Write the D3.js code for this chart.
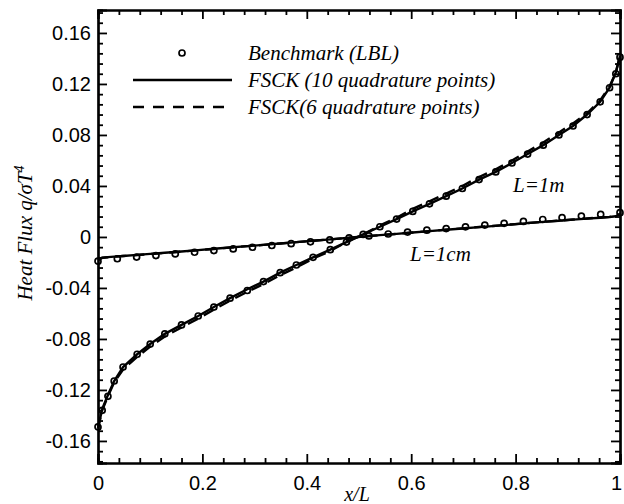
<!DOCTYPE html>
<html lang="en">
<head>
    <meta charset="UTF-8">
    <title>Heat flux profiles</title>
    <script src="https://d3js.org/d3.v7.min.js"></script>
    <style>
        body { margin: 0; background: #fff; }
        .line { fill: none; stroke: #000; stroke-width: 2.4; }
        .tick text { font-family: "Liberation Sans", Arial, sans-serif; font-size: 20px; fill: #000; }
        .lab { font-family: "Liberation Serif", "Times New Roman", serif; font-style: italic; fill: #000; }
    </style>
</head>
<body>
    <svg width="624" height="504"></svg>

    <script>
        // L = 1 m case
        const x1m = [0, 0.008, 0.019, 0.031, 0.048, 0.075, 0.10, 0.128, 0.16, 0.192, 0.222, 0.253, 0.286,
            0.317, 0.349, 0.38, 0.412, 0.445, 0.476, 0.508, 0.54, 0.572, 0.603, 0.635, 0.667, 0.698, 0.73,
            0.762, 0.793, 0.823, 0.853, 0.883, 0.91, 0.937, 0.962, 0.98, 0.992, 1.0];
        const bench1m = [-0.149, -0.136, -0.125, -0.113, -0.102, -0.092, -0.084, -0.076, -0.069, -0.062,
            -0.055, -0.048, -0.042, -0.035, -0.028, -0.022, -0.016, -0.010, -0.004, 0.002, 0.008, 0.014,
            0.020, 0.026, 0.032, 0.038, 0.045, 0.051, 0.058, 0.065, 0.072, 0.080, 0.087, 0.096, 0.106,
            0.117, 0.128, 0.141];
        const fsck10_1m = [-0.150, -0.135, -0.124, -0.113, -0.102, -0.092, -0.084, -0.076, -0.069, -0.062,
            -0.055, -0.048, -0.041, -0.035, -0.028, -0.022, -0.016, -0.010, -0.004, 0.002, 0.008, 0.014,
            0.020, 0.026, 0.032, 0.038, 0.045, 0.051, 0.058, 0.065, 0.072, 0.080, 0.087, 0.096, 0.106,
            0.117, 0.129, 0.142];
        const fsck6_1m = [-0.150, -0.136, -0.125, -0.114, -0.104, -0.094, -0.086, -0.078, -0.071, -0.064,
            -0.057, -0.050, -0.043, -0.037, -0.030, -0.024, -0.017, -0.011, -0.004, 0.002, 0.009, 0.015,
            0.022, 0.028, 0.034, 0.040, 0.047, 0.053, 0.060, 0.067, 0.074, 0.082, 0.089, 0.097, 0.107,
            0.118, 0.129, 0.142];

        // L = 1 cm case
        const xBench1cm = [0, 0.037, 0.074, 0.111, 0.148, 0.185, 0.222, 0.259, 0.296, 0.333, 0.370, 0.407,
            0.444, 0.481, 0.519, 0.556, 0.593, 0.630, 0.667, 0.704, 0.741, 0.778, 0.815, 0.852, 0.889,
            0.926, 0.963, 1.0];
        const bench1cm = [-0.0190, -0.0171, -0.0158, -0.0146, -0.0133, -0.0120, -0.0107, -0.0094, -0.0081,
            -0.0067, -0.0053, -0.0038, -0.0023, -0.0008, 0.0008, 0.0023, 0.0038, 0.0053, 0.0066, 0.0079,
            0.0093, 0.0107, 0.0122, 0.0137, 0.0151, 0.0164, 0.0177, 0.0190];
        const fsck10_1cm = [-0.0180, -0.0163, -0.0158, -0.0154, -0.0149, -0.0141, -0.0133, -0.0124, -0.0114,
            -0.0103, -0.0093, -0.0083, -0.0072, -0.0062, -0.0051, -0.0041, -0.0030, -0.0019, -0.0008, 0.0003,
            0.0014, 0.0024, 0.0035, 0.0046, 0.0056, 0.0066, 0.0077, 0.0087, 0.0098, 0.0108, 0.0118, 0.0127,
            0.0136, 0.0144, 0.0151, 0.0156, 0.0162, 0.0180];
        const fsck6_1cm = [-0.0181, -0.0164, -0.0159, -0.0155, -0.0150, -0.0142, -0.0134, -0.0125, -0.0115,
            -0.0104, -0.0094, -0.0083, -0.0072, -0.0062, -0.0051, -0.0041, -0.0030, -0.0019, -0.0008, 0.0003,
            0.0014, 0.0024, 0.0035, 0.0046, 0.0057, 0.0067, 0.0078, 0.0088, 0.0099, 0.0109, 0.0119, 0.0128,
            0.0137, 0.0145, 0.0152, 0.0157, 0.0163, 0.0181];

        const xMajor = [0, 0.2, 0.4, 0.6, 0.8, 1];
        const xMinor = [0.04, 0.08, 0.12, 0.16, 0.24, 0.28, 0.32, 0.36, 0.44, 0.48, 0.52, 0.56,
            0.64, 0.68, 0.72, 0.76, 0.84, 0.88, 0.92, 0.96];
        const yMajor = [-0.16, -0.12, -0.08, -0.04, 0, 0.04, 0.08, 0.12, 0.16];
        const yMinor = [-0.176, -0.168, -0.152, -0.144, -0.136, -0.128, -0.112, -0.104, -0.096, -0.088,
            -0.072, -0.064, -0.056, -0.048, -0.032, -0.024, -0.016, -0.008, 0.008, 0.016, 0.024, 0.032,
            0.048, 0.056, 0.064, 0.072, 0.088, 0.096, 0.104, 0.112, 0.128, 0.136, 0.144, 0.152, 0.168, 0.176];
        const legendNames = ["Benchmark (LBL)", "FSCK (10 quadrature points)", "FSCK(6 quadrature points)"];

        const margin = { top: 10, right: 4, bottom: 41, left: 98 };
        const width = 624 - margin.left - margin.right;
        const height = 504 - margin.top - margin.bottom;

        const root = d3.select("svg");
        const svg = root.append("g")
            .attr("transform", `translate(${margin.left},${margin.top})`);

        const x = d3.scaleLinear().domain([0, 1]).range([0, width]);
        const y = d3.scaleLinear().domain([-0.1773, 0.178]).range([height, 0]);

        const fmt = d => d === 0 ? "0" : String(+d.toFixed(2));

        // axes: ticks point inwards on all four sides
        const xAx = svg.append("g").attr("transform", `translate(0,${height})`)
            .call(d3.axisBottom(x).tickValues(xMajor).tickSize(-9).tickPadding(13).tickFormat(fmt));
        // keep the "1" inside the window
        xAx.selectAll(".tick text").filter(d => d === 1).attr("dx", -4);
        svg.append("g").attr("transform", `translate(0,${height})`)
            .call(d3.axisBottom(x).tickValues(xMinor).tickSize(-5).tickFormat(""));
        svg.append("g")
            .call(d3.axisTop(x).tickValues(xMajor).tickSize(-9).tickFormat(""));
        svg.append("g")
            .call(d3.axisTop(x).tickValues(xMinor).tickSize(-5).tickFormat(""));

        svg.append("g")
            .call(d3.axisLeft(y).tickValues(yMajor).tickSize(-9).tickPadding(7).tickFormat(fmt));
        svg.append("g")
            .call(d3.axisLeft(y).tickValues(yMinor).tickSize(-5).tickFormat(""));
        svg.append("g").attr("transform", `translate(${width},0)`)
            .call(d3.axisRight(y).tickValues(yMajor).tickSize(-9).tickFormat(""));
        svg.append("g").attr("transform", `translate(${width},0)`)
            .call(d3.axisRight(y).tickValues(yMinor).tickSize(-5).tickFormat(""));

        svg.selectAll(".domain").attr("stroke", "#000").attr("stroke-width", 2.2);
        svg.selectAll(".tick line").attr("stroke", "#000").attr("stroke-width", 1.8);

        const line = d3.line()
            .x(d => x(d[0]))
            .y(d => y(d[1]));

        const zip = (xs, ys) => xs.map((v, i) => [v, ys[i]]);

        svg.append("path").datum(zip(x1m, fsck10_1m)).attr("class", "line").attr("d", line);
        svg.append("path").datum(zip(x1m, fsck6_1m)).attr("class", "line").attr("d", line)
            .attr("stroke-dasharray", "11,7");
        svg.append("path").datum(zip(x1m, fsck10_1cm)).attr("class", "line").attr("d", line);
        svg.append("path").datum(zip(x1m, fsck6_1cm)).attr("class", "line").attr("d", line)
            .attr("stroke-dasharray", "11,7");

        const bench = zip(x1m, bench1m).concat(zip(xBench1cm, bench1cm));
        svg.selectAll("circle.pt").data(bench).join("circle")
            .attr("class", "pt")
            .attr("cx", d => x(d[0]))
            .attr("cy", d => y(d[1]))
            .attr("r", 3)
            .attr("fill", "none")
            .attr("stroke", "#000")
            .attr("stroke-width", 1.7);

        // legend
        const leg = root.append("g");
        leg.append("circle").attr("cx", 182).attr("cy", 53).attr("r", 3)
            .attr("fill", "none").attr("stroke", "#000").attr("stroke-width", 1.7);
        leg.append("line").attr("x1", 133).attr("x2", 232).attr("y1", 80).attr("y2", 80)
            .attr("stroke", "#000").attr("stroke-width", 2.4);
        leg.append("line").attr("x1", 133).attr("x2", 232).attr("y1", 107).attr("y2", 107)
            .attr("stroke", "#000").attr("stroke-width", 2.4).attr("stroke-dasharray", "11,9");
        leg.selectAll("text").data(legendNames).join("text")
            .attr("class", "lab")
            .attr("x", 248)
            .attr("y", (d, i) => 60 + i * 27)
            .attr("font-size", 21)
            .text(d => d);

        // curve labels
        root.append("text").attr("class", "lab").attr("x", 513).attr("y", 192)
            .attr("font-size", 21).text("L=1m");
        root.append("text").attr("class", "lab").attr("x", 410).attr("y", 261)
            .attr("font-size", 21).text("L=1cm");

        // axis titles
        root.append("text").attr("class", "lab")
            .attr("x", margin.left + width / 2 - 2).attr("y", 501)
            .attr("text-anchor", "middle").attr("font-size", 20).text("x/L");

        const yt = root.append("text").attr("class", "lab")
            .attr("transform", "translate(32,233) rotate(-90)")
            .attr("text-anchor", "middle").attr("font-size", 21);
        yt.append("tspan").text("Heat Flux q/σT");
        yt.append("tspan").attr("dy", -8).attr("font-size", 14).text("4");
    </script>
</body>
</html>
